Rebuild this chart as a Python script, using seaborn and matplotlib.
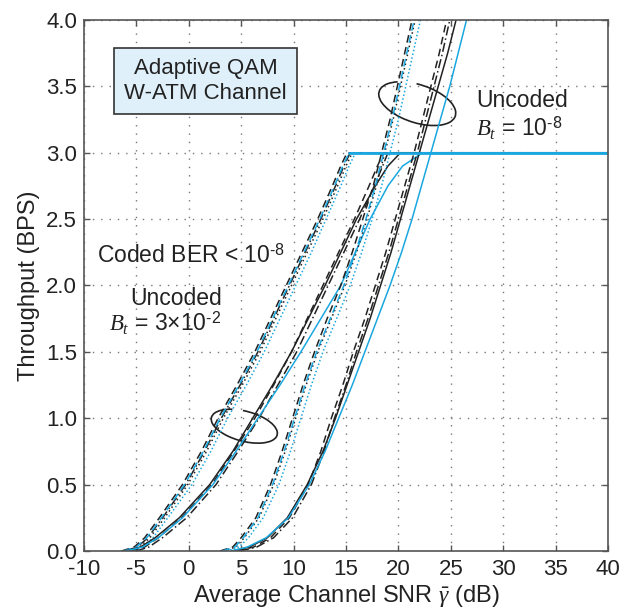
import numpy as np
import pandas as pd
import matplotlib
matplotlib.use("Agg")
import matplotlib.pyplot as plt
import matplotlib.transforms as mtransforms
from matplotlib.patches import Arc
import seaborn as sns

# ---------------- data: SNR (dB) at which each throughput level is reached ----
LEV = [0.0, 0.03, 0.1, 0.25, 0.5, 0.75, 1.0, 1.25, 1.5, 1.75, 2.0, 2.25,
       2.5, 2.75, 2.9, 3.0]
LEV_UP = [0.0, 0.03, 0.1, 0.25, 0.5, 0.75, 1.0, 1.25, 1.5, 1.75, 2.0, 2.25,
          2.5, 2.75, 3.0, 3.25, 3.5, 3.75, 4.0]

# coded schemes, left bundle (saturating at 3 BPS)
a_black_dash    = [-6.4, -5.2, -4.2, -2.8, -0.6, 1.2, 2.8, 4.6, 6.3, 7.8, 9.3, 10.8, 12.3, 13.7, 14.5, 15.1]
a_black_dashdot = [-6.1, -4.9, -3.9, -2.5, -0.3, 1.5, 3.1, 4.9, 6.6, 8.1, 9.6, 11.1, 12.6, 14.0, 14.8, 15.4]
a_black_dot     = [-5.9, -4.7, -3.7, -2.3, -0.1, 1.7, 3.3, 5.1, 6.8, 8.3, 9.8, 11.3, 12.8, 14.2, 15.0, 15.6]
a_cyan_dash     = [-6.2, -5.0, -4.0, -2.6, -0.4, 1.4, 3.0, 4.8, 6.5, 8.0, 9.5, 11.0, 12.5, 13.9, 14.7, 15.3]
a_cyan_dot      = [-5.6, -4.4, -3.4, -2.0, 0.3, 2.1, 3.7, 5.5, 7.2, 8.7, 10.2, 11.7, 13.1, 14.5, 15.3, 15.9]
# coded schemes, second bundle (saturating at 3 BPS)
b_black_solid   = [-6.0, -4.6, -3.2, -0.9, 2.0, 4.2, 6.1, 8.0, 9.8, 11.4, 13.0, 14.5, 16.0, 17.8, 19.0, 20.2]
b_cyan_solid    = [-6.0, -4.4, -2.9, -0.6, 2.3, 4.5, 6.6, 8.7, 10.7, 12.6, 14.5, 15.9, 17.3, 19.0, 20.4, 22.3]
b_black_dash    = [-5.5, -4.2, -2.9, -0.7, 2.2, 4.3, 6.3, 8.1, 9.8, 11.3, 12.8, 14.3, 15.8, 17.2, 18.0, 18.6]
b_black_dashdot = [-5.0, -3.8, -2.5, -0.2, 2.6, 4.7, 6.7, 8.5, 10.3, 11.8, 13.3, 14.8, 16.3, 17.7, 18.5, 19.0]
# uncoded schemes, B_t = 1e-8 (not saturating)
c_black_dash    = [3.0, 4.2, 5.0, 6.4, 7.8, 8.9, 9.9, 10.9, 12.0, 13.2, 14.5, 15.6, 16.6, 17.6, 18.4, 19.2, 19.9, 20.6, 21.3]
c_black_dot     = [3.3, 4.5, 5.3, 6.7, 8.1, 9.2, 10.2, 11.2, 12.3, 13.6, 14.9, 16.0, 17.0, 17.9, 18.7, 19.5, 20.2, 20.9, 21.6]
c_cyan_dash     = [3.2, 4.4, 5.2, 6.6, 8.0, 9.1, 10.1, 11.1, 12.2, 13.5, 14.8, 15.9, 16.9, 17.8, 18.6, 19.4, 20.1, 20.8, 21.5]
c_cyan_dot      = [3.6, 4.8, 5.7, 7.1, 8.6, 9.7, 10.7, 11.7, 12.8, 14.1, 15.4, 16.5, 17.5, 18.4, 19.2, 20.0, 20.7, 21.4, 22.1]
d_black_dash    = [4.6, 6.2, 7.8, 9.6, 11.4, 12.6, 13.6, 14.7, 15.7, 16.8, 17.8, 18.8, 19.7, 20.6, 21.5, 22.3, 23.1, 23.9, 24.6]
d_black_dashdot = [4.9, 6.5, 8.1, 9.9, 11.7, 12.9, 13.9, 15.0, 16.0, 17.1, 18.1, 19.1, 20.0, 20.9, 21.8, 22.6, 23.4, 24.2, 24.9]
d_black_solid   = [4.2, 5.8, 7.5, 9.4, 11.3, 12.8, 14.0, 15.1, 16.2, 17.3, 18.3, 19.3, 20.2, 21.1, 22.0, 22.9, 23.8, 24.7, 25.5]
d_cyan_solid    = [4.0, 5.6, 7.4, 9.5, 11.5, 13.0, 14.3, 15.6, 16.8, 18.0, 19.2, 20.3, 21.3, 22.2, 23.1, 24.0, 24.9, 25.7, 26.5]

X_END = 40.0
XTICKS = list(range(-10, 41, 5))
YTICKS = [0.0, 0.5, 1.0, 1.5, 2.0, 2.5, 3.0, 3.5, 4.0]

CYAN = "#1aa7e0"
BLACK = "#222222"
DASH = (5, 3)
DASHDOT = (6, 2, 1, 2)
DOT_K = (1, 2)
DOT_C = (1, 1.5)

curves = [
    # name, snr, levels, colour, dashes, capped
    ("a_bd", a_black_dash, LEV, BLACK, DASH, True),
    ("a_bdd", a_black_dashdot, LEV, BLACK, DASHDOT, True),
    ("a_bdot", a_black_dot, LEV, BLACK, DOT_K, True),
    ("a_cd", a_cyan_dash, LEV, CYAN, DASH, True),
    ("a_cdot", a_cyan_dot, LEV, CYAN, DOT_C, True),
    ("b_bdd", b_black_dashdot, LEV, BLACK, DASHDOT, True),
    ("b_bd", b_black_dash, LEV, BLACK, DASH, True),
    ("b_bs", b_black_solid, LEV, BLACK, (), True),
    ("b_cs", b_cyan_solid, LEV, CYAN, (), True),
    ("c_bd", c_black_dash, LEV_UP, BLACK, DASH, False),
    ("c_bdot", c_black_dot, LEV_UP, BLACK, DOT_K, False),
    ("c_cd", c_cyan_dash, LEV_UP, CYAN, DASH, False),
    ("c_cdot", c_cyan_dot, LEV_UP, CYAN, DOT_C, False),
    ("d_bd", d_black_dash, LEV_UP, BLACK, DASH, False),
    ("d_bdd", d_black_dashdot, LEV_UP, BLACK, DASHDOT, False),
    ("d_bs", d_black_solid, LEV_UP, BLACK, (), False),
    ("d_cs", d_cyan_solid, LEV_UP, CYAN, (), False),
]

rows = []
for name, snr, lev, col, dash, capped in curves:
    xs = list(snr)
    ys = list(lev)
    if capped:
        xs.append(X_END)
        ys.append(3.0)
    for x, y in zip(xs, ys):
        rows.append({"curve": name, "snr": x, "thr": y})
df = pd.DataFrame(rows)

sns.set_theme(style="white")
plt.rcParams["font.family"] = ["Liberation Sans", "DejaVu Sans"]
plt.rcParams["axes.unicode_minus"] = False
plt.rcParams["mathtext.fontset"] = "custom"
plt.rcParams["mathtext.rm"] = "Liberation Sans"
plt.rcParams["mathtext.it"] = "Liberation Serif:italic"
plt.rcParams["mathtext.bf"] = "Liberation Sans:bold"

fig = plt.figure(figsize=(6.31, 6.12), dpi=100)
ax = fig.add_axes([0.133, 0.0997, 0.8306, 0.8676])

palette = {c[0]: c[3] for c in curves}
dashes = {c[0]: c[4] for c in curves}
sns.lineplot(data=df, x="snr", y="thr", hue="curve", style="curve",
             palette=palette, dashes=dashes, estimator=None, sort=False,
             linewidth=1.1, legend=False, ax=ax)
# the saturated 3 BPS segment, cyan drawn on top
sat = df[(df["curve"] == "a_cd") & (df["thr"] >= 3.0)]
sns.lineplot(data=sat, x="snr", y="thr", color=CYAN,
             linewidth=2.0, estimator=None, sort=False, legend=False, ax=ax)

ax.set_xlim(-10, 40)
ax.set_ylim(0, 4)
ax.set_xticks(XTICKS)
ax.set_yticks(YTICKS)
ax.set_yticklabels([f"{v:.1f}" for v in YTICKS])
ax.grid(True, color="#777777", linestyle=(0, (1, 5)), linewidth=1.0)
for s in ax.spines.values():
    s.set_color("#555555")
    s.set_linewidth(1.2)
ax.tick_params(axis="both", direction="in", length=4, width=1, color="#555555",
               labelsize=16, labelcolor="#222222", top=True, right=True,
               bottom=True, left=True)
ax.tick_params(axis="x", pad=6)
ax.tick_params(axis="y", pad=5)
ax.set_xlabel(r"Average Channel SNR $\bar{\gamma}$ (dB)", fontsize=17,
              color="#222222", labelpad=2)
ax.set_ylabel("Throughput (BPS)", fontsize=17, color="#222222", labelpad=4)

TXT = 16.5
ax.text(0.232, 0.885, "Adaptive QAM\nW-ATM Channel", transform=ax.transAxes,
        ha="center", va="center", fontsize=16, color="#222222",
        linespacing=1.25,
        bbox=dict(boxstyle="square,pad=0.45", facecolor="#dff0fa",
                  edgecolor="#333333", linewidth=1.2))
ax.text(0.025, 0.556, r"Coded BER < 10$^{\text{-8}}$", transform=ax.transAxes,
        ha="left", va="center", fontsize=TXT, color="#222222")
ax.text(0.176, 0.476, "Uncoded", transform=ax.transAxes,
        ha="center", va="center", fontsize=TXT, color="#222222")
ax.text(0.154, 0.428, r"$B_t$ = 3×10$^{\text{-2}}$", transform=ax.transAxes,
        ha="center", va="center", fontsize=TXT, color="#222222")
ax.text(0.748, 0.849, "Uncoded", transform=ax.transAxes,
        ha="left", va="center", fontsize=TXT, color="#222222")
ax.text(0.748, 0.795, r"$B_t$ = 10$^{\text{-8}}$", transform=ax.transAxes,
        ha="left", va="center", fontsize=TXT, color="#222222")


def loop(cx, cy, w_in, h_in, ang, t1, t2):
    tr = fig.dpi_scale_trans + mtransforms.ScaledTranslation(cx, cy, ax.transData)
    arc = Arc((0, 0), w_in, h_in, angle=ang, theta1=t1, theta2=t2,
              transform=tr, color="#222222", linewidth=1.2)
    ax.add_patch(arc)


loop(5.3, 0.94, 0.68, 0.30, -15, 140, 470)
loop(21.8, 3.37, 0.80, 0.38, -18, 150, 470)

fig.savefig("out.png", dpi=100)
